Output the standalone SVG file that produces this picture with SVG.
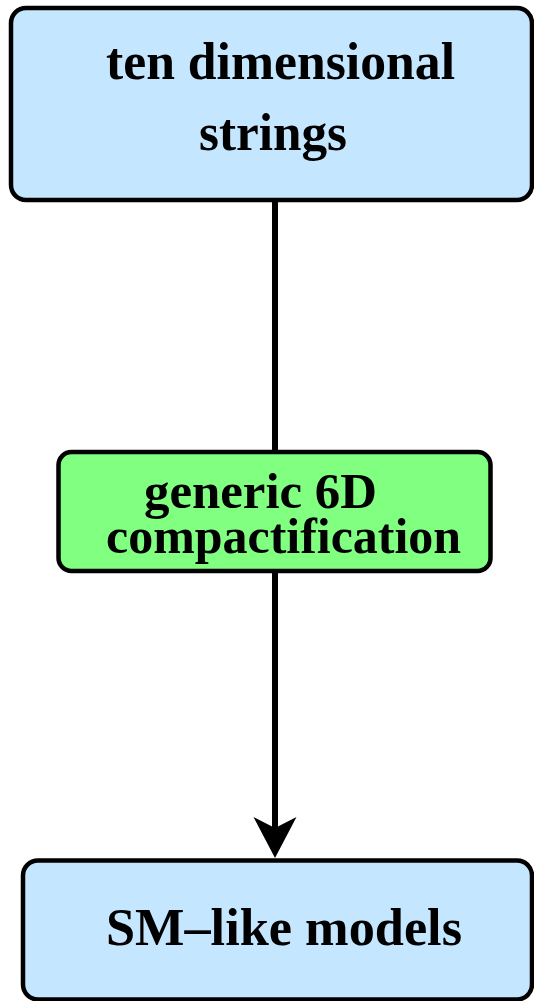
<svg xmlns="http://www.w3.org/2000/svg" width="534" height="1001" viewBox="0 0 534 1001">
<style>
.box{stroke:#000;stroke-width:4.5}
.blue{fill:#c4e6ff}
.green{fill:#80ff80}
.t{font-family:"Liberation Serif","Times New Roman",serif;font-weight:bold;fill:#000}
.edge{stroke:#000;stroke-width:6;fill:none}
</style>
<rect width="534" height="1001" fill="#fff"/>
<g id="connectors">
<line class="edge" x1="275" y1="200" x2="275" y2="452"/>
<line class="edge" x1="275" y1="571" x2="275" y2="830"/>
<path d="M253.5,817 L275,828 L296.5,817 L275,858 Z" fill="#000"/>
</g>
<g id="node-ten">
<rect class="box blue" x="11" y="8" width="521" height="192" rx="15"/>
<text class="t" x="106" y="79" font-size="52" textLength="349" lengthAdjust="spacingAndGlyphs">ten dimensional</text>
<text class="t" x="199" y="150" font-size="52" textLength="148" lengthAdjust="spacingAndGlyphs">strings</text>
</g>
<g id="node-generic">
<rect class="box green" x="58.5" y="452" width="432" height="119" rx="13"/>
<text class="t" x="144" y="508" font-size="50" textLength="233" lengthAdjust="spacingAndGlyphs">generic 6D</text>
<text class="t" x="106" y="553" font-size="50" textLength="355" lengthAdjust="spacingAndGlyphs">compactification</text>
</g>
<g id="node-sm">
<rect class="box blue" x="23" y="860.5" width="509" height="139" rx="15"/>
<text class="t" x="106" y="945" font-size="52" textLength="356" lengthAdjust="spacingAndGlyphs">SM–like models</text>
</g>
</svg>
